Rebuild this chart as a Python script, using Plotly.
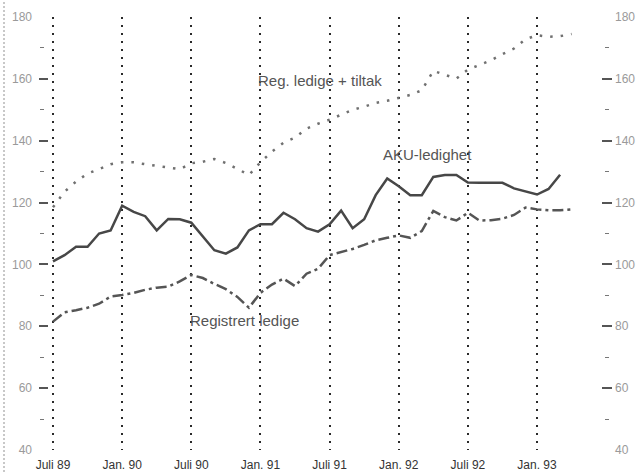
import plotly.graph_objects as go

# month index 0 = Juli 89, one step per month
month_labels = ["Juli 89", "Jan. 90", "Juli 90", "Jan. 91", "Juli 91", "Jan. 92", "Juli 92", "Jan. 93"]
label_months = [0, 6, 12, 18, 24, 30, 36, 42]

# AKU-ledighet (Juli 89 - Mars 93)
aku = [101, 103, 105.7, 105.7, 110, 111, 119, 117, 115.6, 111, 114.7, 114.6,
       113.5, 109, 104.6, 103.5, 105.5, 111, 113, 113, 116.7, 114.6, 111.7, 110.6,
       113, 117.4, 111.7, 114.6, 122.4, 127.8, 125.3, 122.4, 122.4, 128.3, 128.9, 128.9,
       126.5, 126.4, 126.4, 126.4, 124.6, 123.5, 122.6, 124.4, 129]

# Registrert ledige (Juli 89 - April 93)
registrert = [81.5, 84.5, 85.2, 86, 87.3, 89.6, 90.1, 90.8, 91.8, 92.5, 92.8, 94.5,
              96.6, 95.6, 93.7, 92, 89.5, 86, 90.8, 93.5, 95.4, 93, 97, 98.6,
              103, 104, 105, 106.3, 107.8, 108.6, 109.4, 108.6, 110.8, 117.3, 115.3, 114.2,
              116.7, 114.2, 114.3, 114.8, 116, 118.4, 117.8, 117.5, 117.5, 117.8]

# Reg. ledige + tiltak (Juli 89 - April 93)
reg_tiltak = [118.5, 123.5, 126.8, 129.4, 130.8, 132.4, 133, 133, 132.4, 131.9, 131.5, 130.8,
              132.7, 133.2, 134.1, 132.8, 130.9, 128.9, 133, 136.5, 139.3, 141, 143.9, 145.5,
              146.8, 148.5, 150, 151, 152.2, 152.9, 153.8, 154.8, 156.3, 162.6, 161.3, 160.1,
              163, 164.4, 166, 168, 169.8, 172.8, 174.1, 173.6, 173.8, 174.5]

y_labels = [40, 60, 80, 100, 120, 140, 160, 180]
major_ticks = [60, 80, 100, 120, 140, 160]
minor_ticks = [50, 70, 90, 110, 130, 150, 170]

FONT = "Liberation Sans, Arial, sans-serif"
W, H = 637, 474
ML, MR = 40, 26
PW = W - ML - MR


def px(p):
    # pixel column -> paper fraction
    return (p - ML) / PW


fig = go.Figure()

fig.add_trace(go.Scatter(x=list(range(len(reg_tiltak))), y=reg_tiltak, mode="lines",
                         line=dict(color="#707070", width=2.5, dash="2.5px,8px")))
fig.add_trace(go.Scatter(x=list(range(len(aku))), y=aku, mode="lines",
                         line=dict(color="#474747", width=2.5)))
fig.add_trace(go.Scatter(x=list(range(len(registrert))), y=registrert, mode="lines",
                         line=dict(color="#555555", width=2.5, dash="11px,4px,3px,4px")))

# empty traces so the extra label / tick axes get drawn
for ax in ["y2", "y3", "y4", "y5", "y6"]:
    fig.add_trace(go.Scatter(x=[None], y=[None], yaxis=ax, mode="lines",
                             hoverinfo="skip", showlegend=False))

yr = [40, 180]
common = dict(range=yr, showgrid=False, zeroline=False, showline=False, fixedrange=True)
lab_font = dict(family=FONT, size=12, color="#9a9a9a")

fig.update_layout(
    width=W, height=H,
    margin=dict(l=ML, r=MR, t=17, b=24),
    plot_bgcolor="white", paper_bgcolor="white",
    showlegend=False,
    xaxis=dict(domain=[px(49), px(601)], range=[-0.347, 47.55],
               tickvals=label_months, ticktext=month_labels, ticks="",
               tickfont=dict(family=FONT, size=12, color="#333333"),
               ticklabelstandoff=6,
               showgrid=True, gridcolor="#2a2a2a", gridwidth=1.8, griddash="2px,6px",
               zeroline=False, showline=False, automargin=False, fixedrange=True),
    yaxis=dict(**common, side="left", tickvals=y_labels, ticks="",
               tickfont=lab_font, ticklabelstandoff=16, automargin=False),
    yaxis2=dict(**common, overlaying="y", side="right", anchor="x", tickvals=y_labels,
                ticks="", tickfont=lab_font, ticklabelstandoff=13, automargin=False),
    yaxis3=dict(**common, overlaying="y", side="left", anchor="x", tickvals=major_ticks,
                ticks="outside", ticklen=9, tickwidth=1.6, tickcolor="#555555",
                showticklabels=False),
    yaxis4=dict(**common, overlaying="y", side="left", anchor="free", position=px(44),
                tickvals=minor_ticks, ticks="outside", ticklen=4, tickwidth=1.4,
                tickcolor="#777777", showticklabels=False),
    yaxis5=dict(**common, overlaying="y", side="right", anchor="x", tickvals=major_ticks,
                ticks="outside", ticklen=10, tickwidth=1.6, tickcolor="#555555",
                showticklabels=False),
    yaxis6=dict(**common, overlaying="y", side="right", anchor="free", position=px(604),
                tickvals=minor_ticks, ticks="outside", ticklen=4, tickwidth=1.4,
                tickcolor="#777777", showticklabels=False),
)

ann_font = dict(family=FONT, size=15, color="#555555")
fig.add_annotation(x=23.2, y=159.5, text="Reg. ledige + tiltak", showarrow=False, font=ann_font)
fig.add_annotation(x=32.5, y=135.5, text="AKU-ledighet", showarrow=False, font=ann_font)
fig.add_annotation(x=16.6, y=82, text="Registrert ledige", showarrow=False, font=ann_font)

# faint scan edge on the left
fig.add_shape(type="line", xref="paper", yref="paper", x0=px(4), x1=px(4), y0=-0.06, y1=1.04,
              line=dict(color="#c8c8c8", width=2, dash="2px,2px"))

# drop the default body margin so the figure sits at the window's top-left corner
fig.write_html("out.html", config={"displayModeBar": False},
               post_script="document.body.style.margin='0';")
